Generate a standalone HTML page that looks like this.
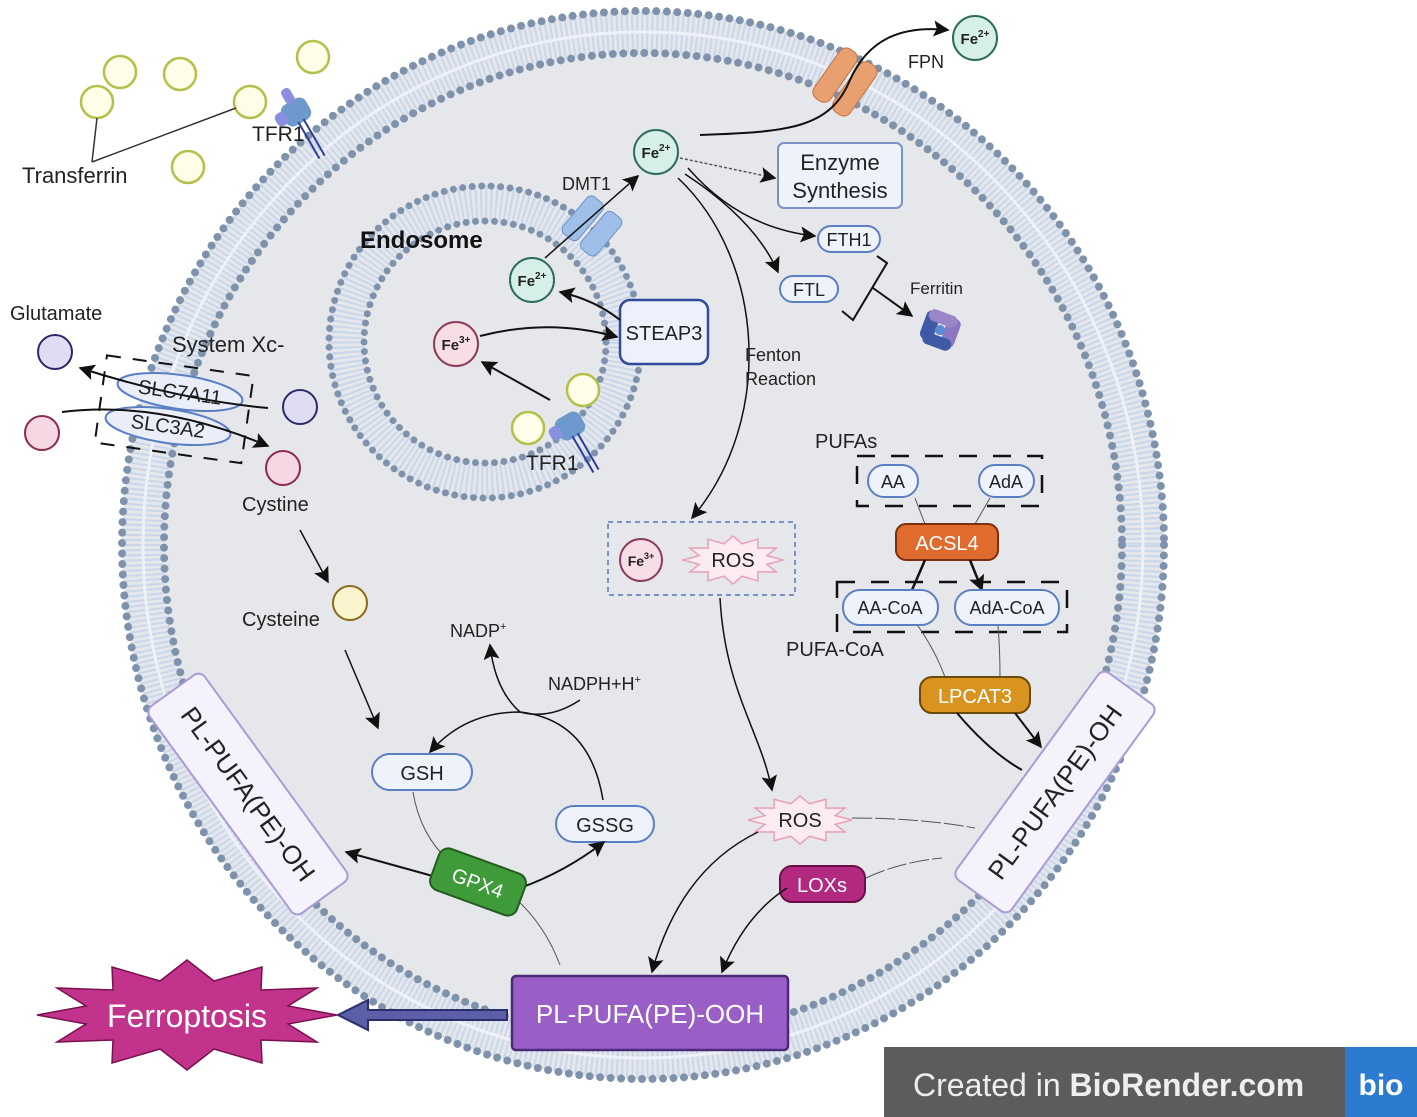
<!DOCTYPE html>
<html><head><meta charset="utf-8"><style>
html,body{margin:0;padding:0;background:#fff}
svg{display:block}
text{font-family:"Liberation Sans",sans-serif;fill:#222}
</style></head><body>
<svg width="1417" height="1117" viewBox="0 0 1417 1117" xmlns="http://www.w3.org/2000/svg">
<defs>
<marker id="a" viewBox="0 0 10 10" refX="9" refY="5" markerWidth="16" markerHeight="16" orient="auto" markerUnits="userSpaceOnUse">
<path d="M0,0 L10,5 L0,10 L2,5 z" fill="#111"/></marker>
</defs>

<!-- Cell membrane -->
<ellipse cx="643" cy="545" rx="521" ry="534" fill="#e6e7ea"/>
<ellipse cx="643" cy="545" rx="500" ry="513" fill="none" stroke="#c9d7ec" stroke-width="40" stroke-dasharray="2 3"/>
<ellipse cx="643" cy="545" rx="500" ry="513" fill="none" stroke="#eef2f8" stroke-width="3"/>
<ellipse cx="643" cy="545" rx="521" ry="534" fill="none" stroke="#7e93ab" stroke-width="8" stroke-linecap="round" stroke-dasharray="0 10.5"/>
<ellipse cx="643" cy="545" rx="479" ry="492" fill="none" stroke="#7e93ab" stroke-width="8" stroke-linecap="round" stroke-dasharray="0 10.5"/>

<!-- Endosome -->
<circle cx="485" cy="342" r="139" fill="none" stroke="#c9d7ec" stroke-width="36" stroke-dasharray="2 3"/>
<circle cx="485" cy="342" r="156" fill="none" stroke="#7e93ab" stroke-width="7" stroke-linecap="round" stroke-dasharray="0 9.5"/>
<circle cx="485" cy="342" r="121" fill="none" stroke="#7e93ab" stroke-width="7" stroke-linecap="round" stroke-dasharray="0 9.5"/>
<circle cx="485" cy="342" r="117" fill="#e6e7ea"/>
<text x="360" y="248" font-size="24" font-weight="bold" style="fill:#111">Endosome</text>

<!-- Transferrin outside -->
<g fill="#fdfde8" stroke="#b5c04a" stroke-width="2.5">
<circle cx="120" cy="72" r="16"/><circle cx="180" cy="74" r="16"/><circle cx="97" cy="102" r="16"/>
<circle cx="313" cy="57" r="16"/><circle cx="250" cy="102" r="16"/><circle cx="188" cy="167" r="16"/>
</g>
<path d="M92,162 L97,118 M92,162 L236,108" stroke="#333" stroke-width="1.5" fill="none"/>
<text x="22" y="183" font-size="22">Transferrin</text>
<g transform="translate(296,112) rotate(-30)">
<rect x="-14" y="-12" width="28" height="24" rx="8" fill="#6e99cc"/>
<rect x="-22" y="-8" width="12" height="14" rx="5" fill="#8a8fe0"/>
<rect x="-4" y="-26" width="10" height="16" rx="4" fill="#8a8fe0"/>
<path d="M-3,10 L-3,52 M3,10 L3,52" stroke="#2b3d9a" stroke-width="2"/>
</g>
<text x="252" y="141" font-size="21">TFR1</text>

<!-- FPN -->
<g transform="translate(845,82) rotate(35)">
<rect x="-22" y="-30" width="20" height="60" rx="8" fill="#e9a070" stroke="#c07040"/>
<rect x="2" y="-30" width="20" height="60" rx="8" fill="#e9a070" stroke="#c07040"/>
</g>
<text x="908" y="68" font-size="18">FPN</text>
<circle cx="975" cy="38" r="22" fill="#d6efe8" stroke="#2d6b5a" stroke-width="2"/>
<text x="975" y="44" font-size="15" font-weight="bold" text-anchor="middle">Fe<tspan font-size="10" dy="-7">2+</tspan></text>
<path d="M700,135 C790,132 830,128 850,80 C868,40 900,25 948,30" stroke="#111" stroke-width="2" fill="none" marker-end="url(#a)"/>

<circle cx="656" cy="152" r="22" fill="#d6efe8" stroke="#2d6b5a" stroke-width="2"/>
<text x="656" y="158" font-size="15" font-weight="bold" text-anchor="middle">Fe<tspan font-size="10" dy="-7">2+</tspan></text>
<path d="M680,158 L775,178" stroke="#555" stroke-width="1.5" stroke-dasharray="3 2" fill="none" marker-end="url(#a)"/>
<path d="M688,168 Q740,228 815,236" stroke="#111" stroke-width="1.5" fill="none" marker-end="url(#a)"/>
<path d="M685,174 Q755,220 778,272" stroke="#111" stroke-width="1.5" fill="none" marker-end="url(#a)"/>
<path d="M678,178 C765,260 775,420 692,518" stroke="#111" stroke-width="1.5" fill="none" marker-end="url(#a)"/>
<text x="745" y="361" font-size="18">Fenton</text>
<text x="745" y="385" font-size="18">Reaction</text>

<rect x="778" y="143" width="124" height="65" rx="6" fill="#eef3fb" stroke="#7892c8" stroke-width="2"/>
<text x="840" y="170" font-size="22" text-anchor="middle">Enzyme</text>
<text x="840" y="198" font-size="22" text-anchor="middle">Synthesis</text>
<rect x="818" y="226" width="62" height="26" rx="13" fill="#eef3fb" stroke="#5b7fc4" stroke-width="2"/>
<text x="849" y="246" font-size="18" text-anchor="middle">FTH1</text>
<rect x="780" y="276" width="58" height="26" rx="13" fill="#eef3fb" stroke="#5b7fc4" stroke-width="2"/>
<text x="809" y="296" font-size="18" text-anchor="middle">FTL</text>
<path d="M877,256 L887,263 L853,320 L842,311" stroke="#111" stroke-width="2" fill="none"/>
<path d="M873,288 L912,316" stroke="#111" stroke-width="2" fill="none" marker-end="url(#a)"/>
<text x="910" y="294" font-size="17">Ferritin</text>
<g transform="translate(940,330) rotate(20)">
<rect x="-18" y="-16" width="14" height="30" rx="6" fill="#3e5aa6"/>
<rect x="4" y="-16" width="14" height="30" rx="6" fill="#8b78c0"/>
<rect x="-16" y="-18" width="30" height="12" rx="6" fill="#9a85c8"/>
<rect x="-14" y="6" width="30" height="12" rx="6" fill="#3e5aa6"/>
<circle cx="0" cy="0" r="5" fill="#5a8ad0"/>
</g>

<g transform="translate(592,226) rotate(40)">
<rect x="-22" y="-24" width="20" height="48" rx="6" fill="#9fbfe8" stroke="#6f8fc7"/>
<rect x="2" y="-24" width="20" height="48" rx="6" fill="#9fbfe8" stroke="#6f8fc7"/>
</g>
<text x="562" y="190" font-size="18">DMT1</text>
<path d="M545,258 L638,176" stroke="#111" stroke-width="1.5" fill="none" marker-end="url(#a)"/>

<circle cx="532" cy="280" r="22" fill="#d6efe8" stroke="#2d6b5a" stroke-width="2"/>
<text x="532" y="286" font-size="15" font-weight="bold" text-anchor="middle">Fe<tspan font-size="10" dy="-7">2+</tspan></text>
<rect x="620" y="300" width="88" height="64" rx="10" fill="#eef1fb" stroke="#2e4a9a" stroke-width="2.5"/>
<text x="664" y="340" font-size="20" text-anchor="middle">STEAP3</text>
<path d="M620,320 Q595,300 560,292" stroke="#111" stroke-width="2" fill="none" marker-end="url(#a)"/>
<circle cx="456" cy="344" r="22" fill="#f7dde6" stroke="#8a3a5a" stroke-width="2"/>
<text x="456" y="350" font-size="15" font-weight="bold" text-anchor="middle">Fe<tspan font-size="10" dy="-7">3+</tspan></text>
<path d="M480,336 Q550,318 617,337" stroke="#111" stroke-width="2" fill="none" marker-end="url(#a)"/>
<path d="M550,400 L482,362" stroke="#111" stroke-width="2" fill="none" marker-end="url(#a)"/>
<g fill="#fdfde8" stroke="#b5c04a" stroke-width="2.5">
<circle cx="528" cy="428" r="16"/><circle cx="583" cy="390" r="16"/></g>
<g transform="translate(570,426) rotate(-30)">
<rect x="-14" y="-12" width="28" height="24" rx="8" fill="#6e99cc"/>
<rect x="-22" y="-8" width="12" height="14" rx="5" fill="#8a8fe0"/>
<path d="M-3,10 L-3,52 M3,10 L3,52" stroke="#2b3d9a" stroke-width="2"/>
</g>
<text x="526" y="470" font-size="21">TFR1</text>

<text x="10" y="320" font-size="20">Glutamate</text>
<circle cx="55" cy="352" r="17" fill="#e0ddf3" stroke="#2a2a6a" stroke-width="2"/>
<circle cx="42" cy="433" r="17" fill="#f6d7e4" stroke="#8a2a50" stroke-width="2"/>
<circle cx="300" cy="407" r="17" fill="#e0ddf3" stroke="#2a2a6a" stroke-width="2"/>
<circle cx="283" cy="468" r="17" fill="#f6d7e4" stroke="#8a2a50" stroke-width="2"/>
<text x="172" y="352" font-size="22">System Xc-</text>
<g transform="rotate(8 172 410)">
<rect x="100" y="365" width="148" height="88" fill="none" stroke="#111" stroke-width="2" stroke-dasharray="14 12"/>
</g>
<ellipse cx="180" cy="392" rx="63" ry="17" transform="rotate(8 180 392)" fill="#e9eef8" stroke="#5b7fc4" stroke-width="2"/>
<ellipse cx="168" cy="426" rx="63" ry="17" transform="rotate(8 168 426)" fill="#e9eef8" stroke="#5b7fc4" stroke-width="2"/>
<path d="M268,408 Q180,400 80,368" stroke="#111" stroke-width="2" fill="none" marker-end="url(#a)"/>
<path d="M62,412 Q160,400 268,446" stroke="#111" stroke-width="2" fill="none" marker-end="url(#a)"/>
<text x="180" y="399" font-size="20" text-anchor="middle" transform="rotate(8 180 392)">SLC7A11</text>
<text x="168" y="433" font-size="20" text-anchor="middle" transform="rotate(8 168 426)">SLC3A2</text>

<text x="242" y="511" font-size="20">Cystine</text>
<path d="M300,530 L328,582" stroke="#111" stroke-width="1.5" fill="none" marker-end="url(#a)"/>
<text x="242" y="626" font-size="20">Cysteine</text>
<circle cx="350" cy="603" r="17" fill="#fbf5cf" stroke="#8a6a1a" stroke-width="2"/>
<path d="M345,650 L378,728" stroke="#111" stroke-width="1.5" fill="none" marker-end="url(#a)"/>

<text x="450" y="637" font-size="18">NADP<tspan font-size="11" dy="-7">+</tspan></text>
<text x="548" y="690" font-size="18">NADPH+H<tspan font-size="11" dy="-7">+</tspan></text>
<path d="M580,700 Q550,720 520,712 Q495,690 490,645" stroke="#111" stroke-width="1.5" fill="none" marker-end="url(#a)"/>
<path d="M603,800 Q590,720 520,712 Q465,712 430,752" stroke="#111" stroke-width="1.5" fill="none" marker-end="url(#a)"/>
<rect x="372" y="754" width="100" height="36" rx="18" fill="#eef3fb" stroke="#5b7fc4" stroke-width="2"/>
<text x="422" y="780" font-size="20" text-anchor="middle">GSH</text>
<rect x="556" y="806" width="98" height="36" rx="18" fill="#eef3fb" stroke="#5b7fc4" stroke-width="2"/>
<text x="605" y="832" font-size="20" text-anchor="middle">GSSG</text>
<path d="M413,792 Q420,835 450,862 M515,898 Q545,925 560,965" stroke="#555" stroke-width="1" fill="none"/>
<path d="M440,878 L346,852" stroke="#111" stroke-width="2" fill="none" marker-end="url(#a)"/>
<path d="M520,888 Q565,872 604,842" stroke="#111" stroke-width="2" fill="none" marker-end="url(#a)"/>
<g transform="translate(478,882) rotate(20)">
<rect x="-46" y="-22" width="92" height="44" rx="10" fill="#3f9a3a" stroke="#245c20" stroke-width="2"/>
<text x="0" y="8" font-size="20" text-anchor="middle" style="fill:#fff">GPX4</text>
</g>

<g transform="translate(248,794) rotate(54)">
<rect x="-128" y="-34" width="256" height="68" rx="8" fill="#f5f2fb" stroke="#a89bd6" stroke-width="2"/>
<text x="0" y="9" font-size="26" text-anchor="middle">PL-PUFA(PE)-OH</text>
</g>
<g transform="translate(1055,792) rotate(-54)">
<rect x="-128" y="-34" width="256" height="68" rx="8" fill="#f5f2fb" stroke="#a89bd6" stroke-width="2"/>
<text x="0" y="9" font-size="26" text-anchor="middle">PL-PUFA(PE)-OH</text>
</g>

<rect x="608" y="522" width="187" height="73" fill="none" stroke="#7892c8" stroke-width="2" stroke-dasharray="5 4"/>
<circle cx="641" cy="560" r="21" fill="#f7dde6" stroke="#8a3a5a" stroke-width="2"/>
<text x="641" y="566" font-size="14" font-weight="bold" text-anchor="middle">Fe<tspan font-size="9" dy="-7">3+</tspan></text>
<polygon transform="translate(733,560) scale(50,24)" vector-effect="non-scaling-stroke" fill="#fcecf2" stroke="#e7a0b8" stroke-width="1.5" points="1,0 .676,.181 .866,.5 .495,.495 .5,.866 .181,.676 0,1 -.181,.676 -.5,.866 -.495,.495 -.866,.5 -.676,.181 -1,0 -.676,-.181 -.866,-.5 -.495,-.495 -.5,-.866 -.181,-.676 0,-1 .181,-.676 .5,-.866 .495,-.495 .866,-.5 .676,-.181"/>
<text x="733" y="567" font-size="20" text-anchor="middle">ROS</text>
<path d="M720,598 C725,690 760,730 772,790" stroke="#111" stroke-width="1.5" fill="none" marker-end="url(#a)"/>

<polygon transform="translate(800,820) scale(52,24)" vector-effect="non-scaling-stroke" fill="#fcecf2" stroke="#e7a0b8" stroke-width="1.5" points="1,0 .676,.181 .866,.5 .495,.495 .5,.866 .181,.676 0,1 -.181,.676 -.5,.866 -.495,.495 -.866,.5 -.676,.181 -1,0 -.676,-.181 -.866,-.5 -.495,-.495 -.5,-.866 -.181,-.676 0,-1 .181,-.676 .5,-.866 .495,-.495 .866,-.5 .676,-.181"/>
<text x="800" y="827" font-size="20" text-anchor="middle">ROS</text>
<path d="M852,818 Q920,818 975,828 M866,878 Q900,862 942,858" stroke="#555" stroke-width="1" fill="none" stroke-dasharray="20 3"/>
<rect x="780" y="866" width="85" height="36" rx="12" fill="#b2297f" stroke="#6a1048" stroke-width="2"/>
<text x="822" y="892" font-size="20" text-anchor="middle" style="fill:#fff">LOXs</text>
<path d="M758,832 Q680,870 652,972" stroke="#111" stroke-width="1.5" fill="none" marker-end="url(#a)"/>
<path d="M787,888 Q745,915 722,972" stroke="#111" stroke-width="1.5" fill="none" marker-end="url(#a)"/>

<text x="815" y="448" font-size="20">PUFAs</text>
<rect x="857" y="456" width="185" height="50" fill="none" stroke="#111" stroke-width="2.5" stroke-dasharray="18 16"/>
<rect x="868" y="465" width="50" height="32" rx="16" fill="#eef3fb" stroke="#5b7fc4" stroke-width="2"/>
<text x="893" y="488" font-size="18" text-anchor="middle">AA</text>
<rect x="979" y="465" width="55" height="32" rx="16" fill="#eef3fb" stroke="#5b7fc4" stroke-width="2"/>
<text x="1006" y="488" font-size="18" text-anchor="middle">AdA</text>
<path d="M915,498 L925,524 M990,498 L975,524" stroke="#555" stroke-width="1" fill="none"/>
<rect x="896" y="524" width="102" height="36" rx="10" fill="#e06b2e" stroke="#7a3010" stroke-width="2"/>
<text x="947" y="550" font-size="20" text-anchor="middle" style="fill:#fff">ACSL4</text>
<path d="M925,560 L912,590 M970,560 L982,590" stroke="#111" stroke-width="2.5" fill="none" marker-end="url(#a)"/>
<rect x="837" y="582" width="230" height="50" fill="none" stroke="#111" stroke-width="2.5" stroke-dasharray="18 16"/>
<rect x="843" y="590" width="95" height="35" rx="17" fill="#eef3fb" stroke="#5b7fc4" stroke-width="2"/>
<text x="890" y="614" font-size="18" text-anchor="middle">AA-CoA</text>
<rect x="955" y="590" width="104" height="35" rx="17" fill="#eef3fb" stroke="#5b7fc4" stroke-width="2"/>
<text x="1007" y="614" font-size="18" text-anchor="middle">AdA-CoA</text>
<text x="786" y="656" font-size="20">PUFA-CoA</text>
<path d="M918,626 Q935,650 945,677 M998,626 Q1000,650 1000,677" stroke="#555" stroke-width="1" fill="none"/>
<rect x="920" y="677" width="110" height="36" rx="12" fill="#d9941f" stroke="#6a4a08" stroke-width="2"/>
<text x="975" y="703" font-size="20" text-anchor="middle" style="fill:#fff">LPCAT3</text>
<path d="M957,713 Q990,752 1022,770 M1015,713 L1041,747" stroke="#111" stroke-width="2" fill="none" marker-end="url(#a)"/>

<rect x="512" y="976" width="276" height="74" rx="4" fill="#9a5fc7" stroke="#4c2a78" stroke-width="2.5"/>
<text x="650" y="1023" font-size="26" text-anchor="middle" style="fill:#fff">PL-PUFA(PE)-OOH</text>
<polygon points="507,1010 368,1010 368,1000 338,1015 368,1030 368,1020 507,1020" fill="#5a5fa8" stroke="#2a2e6a" stroke-width="2"/>
<polygon fill="#c2348c" stroke="#7a1050" stroke-width="1.5" points="337,1015 288,1024 317,1042 261,1040 262,1063 214,1049 187,1070 160,1049 112,1063 113,1040 57,1042 86,1024 37,1015 86,1006 57,988 113,990 112,967 160,981 187,960 214,981 262,967 261,990 317,988 288,1006"/>
<text x="187" y="1027" font-size="32" text-anchor="middle" style="fill:#fff">Ferroptosis</text>

<rect x="884" y="1047" width="533" height="70" fill="#5c5c5c"/>
<rect x="1345" y="1047" width="72" height="70" fill="#2b7bd0"/>
<text x="913" y="1096" font-size="32" style="fill:#eee">Created in <tspan font-weight="bold">BioRender.com</tspan></text>
<text x="1381" y="1095" font-size="30" font-weight="bold" text-anchor="middle" style="fill:#fff">bio</text>
</svg>
</body></html>
